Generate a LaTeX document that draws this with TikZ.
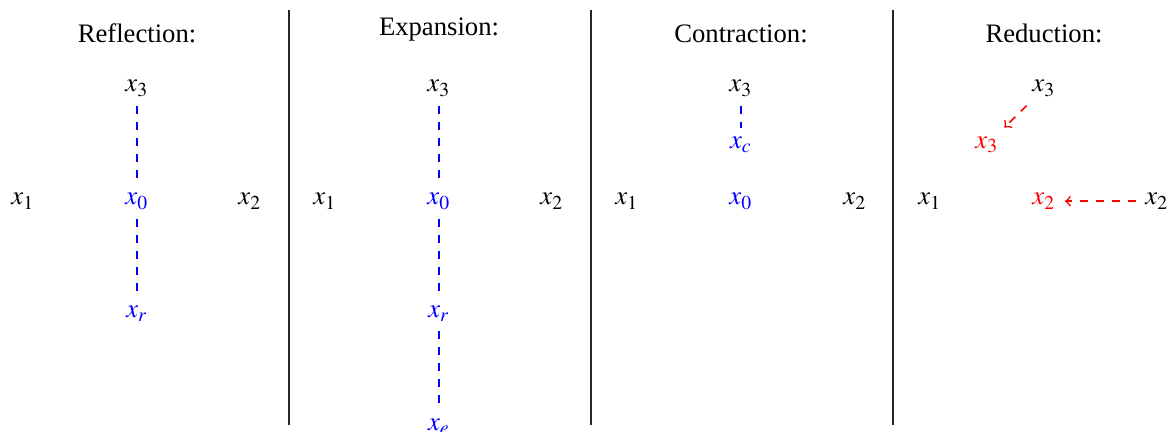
\documentclass[tikz,border=0pt]{standalone}
\usepackage{mathptmx}
\usepackage{fontspec}
\setmainfont{Liberation Serif}
\begin{document}
\begin{tikzpicture}[x=0.375pt,y=-0.375pt,
  lab/.style={anchor=base, inner sep=3.3pt},
  ttl/.style={anchor=base, inner sep=0pt},
  bl/.style={text=blue},
  rd/.style={text=red},
  bdash/.style={draw=blue, dashed, line width=0.4pt},
  rdash/.style={draw=red, dashed, line width=0.6pt, ->},
  divider/.style={draw=black!85, line width=0.4pt}]
\useasboundingbox (0,0) rectangle (1173,432);
% dividers
\coordinate (d1t) at (289,10); \coordinate (d1b) at (289,425);
\coordinate (d2t) at (591,10); \coordinate (d2b) at (591,425);
\coordinate (d3t) at (893,10); \coordinate (d3b) at (893,425);
\draw[divider] (d1t) -- (d1b);
\draw[divider] (d2t) -- (d2b);
\draw[divider] (d3t) -- (d3b);
% titles
\node[ttl] (t1) at (137,43) {Reflection:};
\node[ttl] (t2) at (439,36) {Expansion:};
\node[ttl] (t3) at (741,43) {Contraction:};
\node[ttl] (t4) at (1044,43) {Reduction:};
% panel 1
\node[lab] (a3) at (137,92) {$x_3$};
\node[lab] (a1) at (23,205) {$x_1$};
\node[lab,bl] (a0) at (137,205) {$x_0$};
\node[lab] (a2) at (250,205) {$x_2$};
\node[lab,bl] (ar) at (137,318) {$x_r$};
\draw[bdash] (a3) -- (a0);
\draw[bdash] (a0) -- (ar);
% panel 2
\node[lab] (b3) at (439,92) {$x_3$};
\node[lab] (b1) at (325,205) {$x_1$};
\node[lab,bl] (b0) at (439,205) {$x_0$};
\node[lab] (b2) at (552,205) {$x_2$};
\node[lab,bl] (br) at (439,318) {$x_r$};
\node[lab,bl] (be) at (439,431) {$x_e$};
\draw[bdash] (b3) -- (b0);
\draw[bdash] (b0) -- (br);
\draw[bdash] (br) -- (be);
% panel 3
\node[lab] (c3) at (741,92) {$x_3$};
\node[lab,bl] (cc) at (741,148.5) {$x_c$};
\node[lab] (c1) at (627,205) {$x_1$};
\node[lab,bl] (c0) at (741,205) {$x_0$};
\node[lab] (c2) at (855,205) {$x_2$};
\draw[bdash] (c3) -- (cc);
% panel 4
\node[lab] (e3) at (1044,92) {$x_3$};
\node[lab,rd] (e3r) at (987,148.5) {$x_3$};
\node[lab] (e1) at (930,205) {$x_1$};
\node[lab,rd] (e2r) at (1044,205) {$x_2$};
\node[lab] (e2) at (1157,205) {$x_2$};
\draw[rdash] (e3) -- (e3r);
\draw[rdash] (e2) -- (e2r);
\end{tikzpicture}
\end{document}
